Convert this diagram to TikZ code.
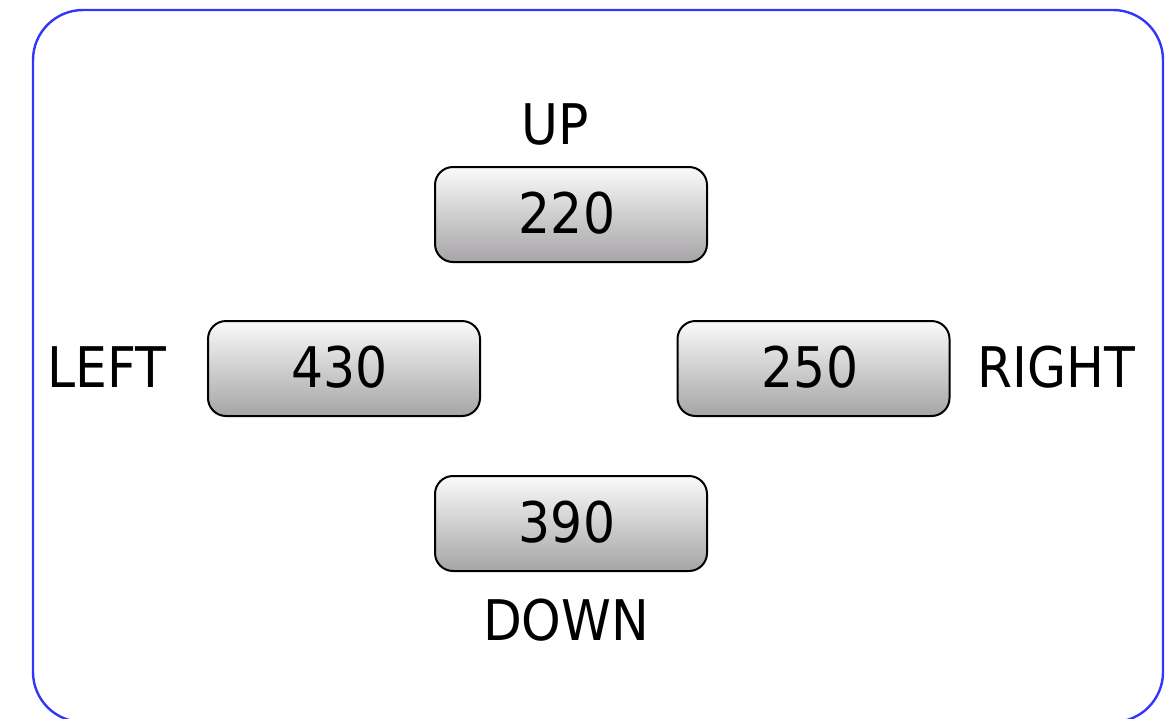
\documentclass[tikz,border=0pt]{standalone}
\usepackage{fontspec}
\setmainfont{DejaVu Sans Condensed}
\definecolor{frameblue}{RGB}{52,52,250}
\definecolor{boxtop}{RGB}{250,250,250}
\definecolor{boxbot}{RGB}{166,164,166}
\begin{document}
\begin{tikzpicture}[x=0.5pt,y=-0.5pt,
  valbox/.style={draw=black, line width=1pt, rounded corners=9pt,
    top color=boxtop, bottom color=boxbot, minimum width=136pt, minimum height=47.5pt,
    inner sep=0pt},
  dirlabel/.style={anchor=base, inner sep=0pt, font=\fontsize{28}{32}\selectfont}]
\useasboundingbox (0,0) rectangle (1176,718);
\draw[frameblue, line width=1.2pt, rounded corners=25pt] (33,10) rectangle (1163,722);
\node[valbox] (up) at (571,214.5) {};
\node[valbox] (left) at (344,368.5) {};
\node[valbox] (right) at (813.5,368.5) {};
\node[valbox] (down) at (571,523.5) {};
\node[dirlabel] (upv) at (567,233) {220};
\node[dirlabel] (leftv) at (340,387) {430};
\node[dirlabel] (rightv) at (810,387) {250};
\node[dirlabel] (downv) at (567,542) {390};
\node[dirlabel] (upl) at (555,144) {UP};
\node[dirlabel] (leftl) at (107,387) {LEFT};
\node[dirlabel] (rightl) at (1056,387) {RIGHT};
\node[dirlabel] (downl) at (566,640) {DOWN};
\end{tikzpicture}
\end{document}
